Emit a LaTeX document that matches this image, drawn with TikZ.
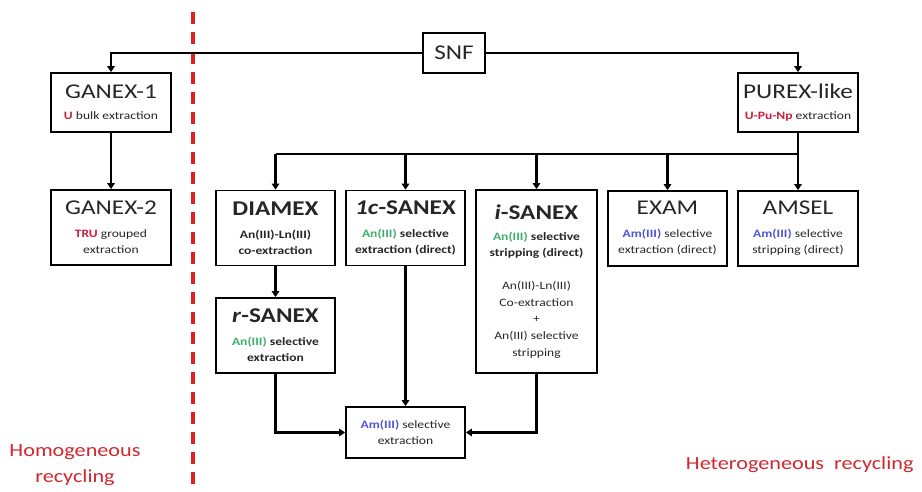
\documentclass[tikz,border=0pt]{standalone}
\usepackage{fontspec}
\setmainfont[FakeStretch=1.2]{Carlito}
\usetikzlibrary{arrows.meta}
\definecolor{elred}{HTML}{C8203A}
\definecolor{angreen}{HTML}{3DB06C}
\definecolor{amblue}{HTML}{5055D8}
\definecolor{sidered}{HTML}{D0282E}
\definecolor{dashred}{HTML}{E02020}
\newcommand{\ttl}[1]{{\fontsize{21}{23}\selectfont #1}}
\newcommand{\U}[1]{\textcolor{elred}{\textbf{#1}}}
\newcommand{\An}{\textcolor{angreen}{\textbf{An(III)}}}
\newcommand{\Am}{\textcolor{amblue}{\textbf{Am(III)}}}
\begin{document}
\begin{tikzpicture}[x=1pt,y=-1pt,
  box/.style={draw, line width=1.8pt, inner sep=0pt, align=center,
    font=\fontsize{11.3}{16}\selectfont, text=black!85},
  wide/.style={minimum width=119pt, minimum height=75pt},
  flat/.style={minimum width=120pt, minimum height=59pt},
  conn/.style={draw, line width=2.1pt},
  arr/.style={draw, line width=2.1pt, -{Triangle[length=6pt,width=7.5pt]}},
  side/.style={text=sidered, font=\fontsize{18.5}{26}\selectfont, align=center}]
\useasboundingbox (0,0) rectangle (922,492);

% dividing line between the two recycling routes
\draw[dashred, line width=3.5pt, dash pattern=on 12pt off 8pt] (193,12) -- (193,492);

% process boxes
\node[box, minimum width=62pt, minimum height=40pt] (snf) at (454,53) {\ttl{SNF}};
\node[box, flat] (ganex1) at (111,102.5) {\ttl{GANEX-1}\\[5pt]\U{U} bulk extraction};
\node[box, minimum width=120pt, minimum height=75pt] (ganex2) at (111,227.5)
  {\ttl{GANEX-2}\\[7pt]\U{TRU} grouped\\extraction};
\node[box, flat] (purex) at (798,102.5) {\ttl{PUREX-like}\\[5pt]\U{U-Pu-Np} extraction};

\node[box, wide] (diamex) at (275.5,228)
  {\ttl{\textbf{DIAMEX}}\\[7pt]\textbf{An(III)-Ln(III)}\\\textbf{co-extraction}};
\node[box, wide] (sanex1c) at (405.5,228)
  {\ttl{\textbf{\textit{1c}-SANEX}}\\[7pt]\An{} \textbf{selective}\\\textbf{extraction (direct)}};
\node[box, minimum width=121pt, minimum height=183pt] (isanex) at (536.5,281.5)
  {\ttl{\textbf{\textit{i}-SANEX}}\\[5pt]\An{} \textbf{selective}\\\textbf{stripping (direct)}\\[17pt]
   An(III)-Ln(III)\\[0.7pt]Co-extraction\\[0.7pt]+\\[0.7pt]An(III) selective\\[0.7pt]stripping};
\node[box, wide] (exam) at (667.5,228.5)
  {\ttl{EXAM}\\[7pt]\Am{} selective\\extraction (direct)};
\node[box, minimum width=120pt, minimum height=75pt] (amsel) at (798,228.5)
  {\ttl{AMSEL}\\[7pt]\Am{} selective\\stripping (direct)};
\node[box, wide] (rsanex) at (275.5,335.5)
  {\ttl{\textbf{\textit{r}-SANEX}}\\[7pt]\An{} \textbf{selective}\\\textbf{extraction}};
\node[box, minimum width=119pt, minimum height=51pt] (amsel2) at (405.5,432.5)
  {\Am{} selective\\extraction};

% recycling route labels
\node[side] (homo) at (75,465) {Homogeneous\\recycling};
\node[side, anchor=east] (hetero) at (917,465) {Heterogeneous\ \ recycling};

% connectors
\draw[arr] (snf.west) -| (ganex1.north);
\draw[arr] (snf.east) -| (purex.north);
\draw[arr] (ganex1.south) -- (ganex2.north);

\coordinate (busL) at (diamex.north |- 0,154);
\coordinate (busR) at (purex.south |- 0,154);
\draw[conn] (purex.south) -- (busR) -- (busL);
\draw[arr] (busL) -- (diamex.north);
\draw[arr] (sanex1c.north |- busR) -- (sanex1c.north);
\draw[arr] (isanex.north |- busR) -- (isanex.north);
\draw[arr] (exam.north |- busR) -- (exam.north);
\draw[arr] (busR) -- (amsel.north);

\draw[arr] (diamex.south) -- (rsanex.north);
\draw[arr] (rsanex.south) |- (amsel2.west);
\draw[arr] (sanex1c.south) -- (amsel2.north);
\draw[arr] (isanex.south) |- (amsel2.east);
\end{tikzpicture}
\end{document}
